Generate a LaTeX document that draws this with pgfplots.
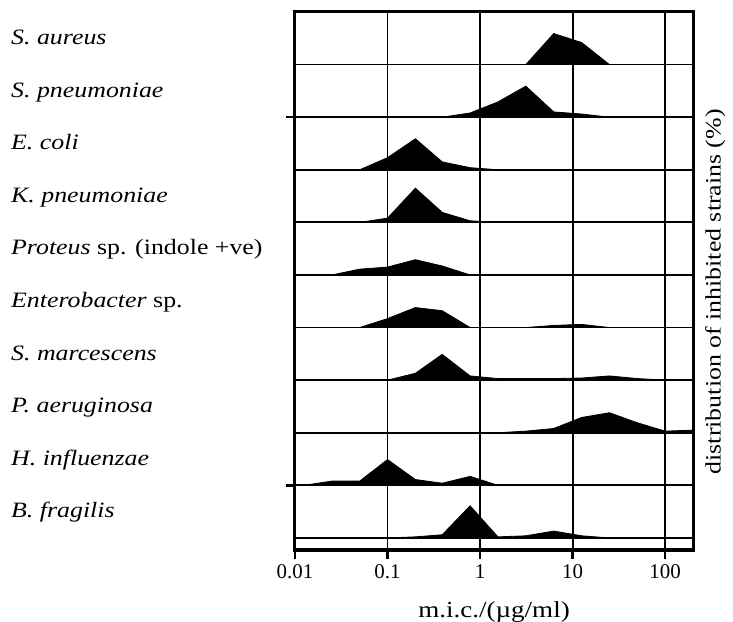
\documentclass[border=0pt]{standalone}
\usepackage{fontspec}
\setmainfont{Liberation Serif}[FakeStretch=1.18]
\newfontfamily\tickfont{Liberation Serif}
\usepackage{pgfplots}
\pgfplotsset{compat=1.18}
\begin{document}
\begin{tikzpicture}
\path[use as bounding box] (0,0) rectangle (733bp,622bp);
\begin{semilogxaxis}[
  at={(295bp,72bp)}, anchor=south west,
  width=398bp, height=538bp, scale only axis,
  xmin=0.01, xmax=200, ymin=-0.23, ymax=10,
  axis line style={line width=3bp},
  xtick={0.01,0.1,1,10,100},
  xticklabels={0.01,0.1,1,10,100},
  xminorticks=false,
  xtick pos=bottom, ytick pos=left,
  xmajorgrids,
  major grid style={line width=1.8bp, black},
  tick align=outside, major tick length=9bp,
  every tick/.style={draw=black, line width=2.5bp},
  xticklabel style={font=\tickfont\fontsize{21}{24}\selectfont, anchor=north, inner sep=0pt, yshift=-5bp},
  ytick={1,8},
  yticklabels={},
  extra y ticks={0,...,9},
  extra y tick labels={\textit{B. fragilis}, \textit{H. influenzae}, \textit{P. aeruginosa},
    \textit{S. marcescens}, \textit{Enterobacter} sp., \textit{Proteus} sp. (indole +ve),
    \textit{K. pneumoniae}, \textit{E. coli}, \textit{S. pneumoniae}, \textit{S. aureus}},
  extra y tick style={major tick length=0pt, grid=major,
    yticklabel style={font=\fontsize{22}{26}\selectfont, anchor=base west, inner sep=0pt,
    xshift=-284bp, yshift=20bp}},
  xlabel={m.i.c./(µg/ml)},
  xlabel style={font=\fontsize{23}{26}\selectfont, at={(axis description cs:0.5,0)},
    anchor=base, yshift=-67bp, inner sep=0pt},
  ylabel={distribution of inhibited strains (\%)},
  ylabel style={font=\fontsize{22}{26}\selectfont, at={(axis description cs:1,0.48)},
    anchor=north, inner sep=0pt, yshift=-12bp},
  clip=false,
]
% tick marks below the frame
\pgfplotsinvokeforeach{0.01,0.1,1,10,100}{
  \draw[line width=2.5bp] (axis cs:#1,-0.23) -- ++(0pt,-9bp);
}
% S. aureus (row 9)
\addplot[fill=black, draw=black, line width=0.8bp] coordinates
  {(3.12,9) (6.25,9.59) (12.5,9.42) (25,9)};
% S. pneumoniae (row 8)
\addplot[fill=black, draw=black, line width=0.8bp] coordinates
  {(0.39,8) (0.78,8.08) (1.56,8.29) (3.12,8.59) (6.25,8.10) (12.5,8.06) (25,8)};
% E. coli (row 7)
\addplot[fill=black, draw=black, line width=0.8bp] coordinates
  {(0.05,7) (0.1,7.23) (0.2,7.59) (0.39,7.15) (0.78,7.04) (1.56,7)};
% K. pneumoniae (row 6)
\addplot[fill=black, draw=black, line width=0.8bp] coordinates
  {(0.05,6) (0.1,6.08) (0.2,6.65) (0.39,6.19) (0.78,6.03) (1.56,6)};
% Proteus sp. (row 5)
\addplot[fill=black, draw=black, line width=0.8bp] coordinates
  {(0.025,5) (0.05,5.11) (0.1,5.15) (0.2,5.29) (0.39,5.17) (0.78,5)};
% Enterobacter sp. (row 4)
\addplot[fill=black, draw=black, line width=0.8bp] coordinates
  {(0.05,4) (0.1,4.17) (0.2,4.38) (0.39,4.32) (0.78,4) (1.56,4) (3.12,4)
   (6.25,4.04) (12.5,4.06) (25,4)};
% S. marcescens (row 3)
\addplot[fill=black, draw=black, line width=0.8bp] coordinates
  {(0.1,3) (0.2,3.13) (0.39,3.49) (0.78,3.08) (1.56,3.03) (3.12,3.03)
   (6.25,3.03) (12.5,3.04) (25,3.08) (50,3.03) (100,3)};
% P. aeruginosa (row 2)
\addplot[fill=black, draw=black, line width=0.8bp] coordinates
  {(1.56,2) (3.12,2.03) (6.25,2.08) (12.5,2.29) (25,2.38) (50,2.19)
   (100,2.03) (200,2.05) (200,2)};
% H. influenzae (row 1)
\addplot[fill=black, draw=black, line width=0.8bp] coordinates
  {(0.0125,1) (0.025,1.08) (0.05,1.08) (0.1,1.49) (0.2,1.11) (0.39,1.04)
   (0.78,1.17) (1.56,1)};
% B. fragilis (row 0)
\addplot[fill=black, draw=black, line width=0.8bp] coordinates
  {(0.1,0) (0.2,0.02) (0.39,0.06) (0.78,0.61) (1.56,0.02) (3.12,0.04)
   (6.25,0.13) (12.5,0.04) (25,0)};
\end{semilogxaxis}
\end{tikzpicture}
\end{document}
